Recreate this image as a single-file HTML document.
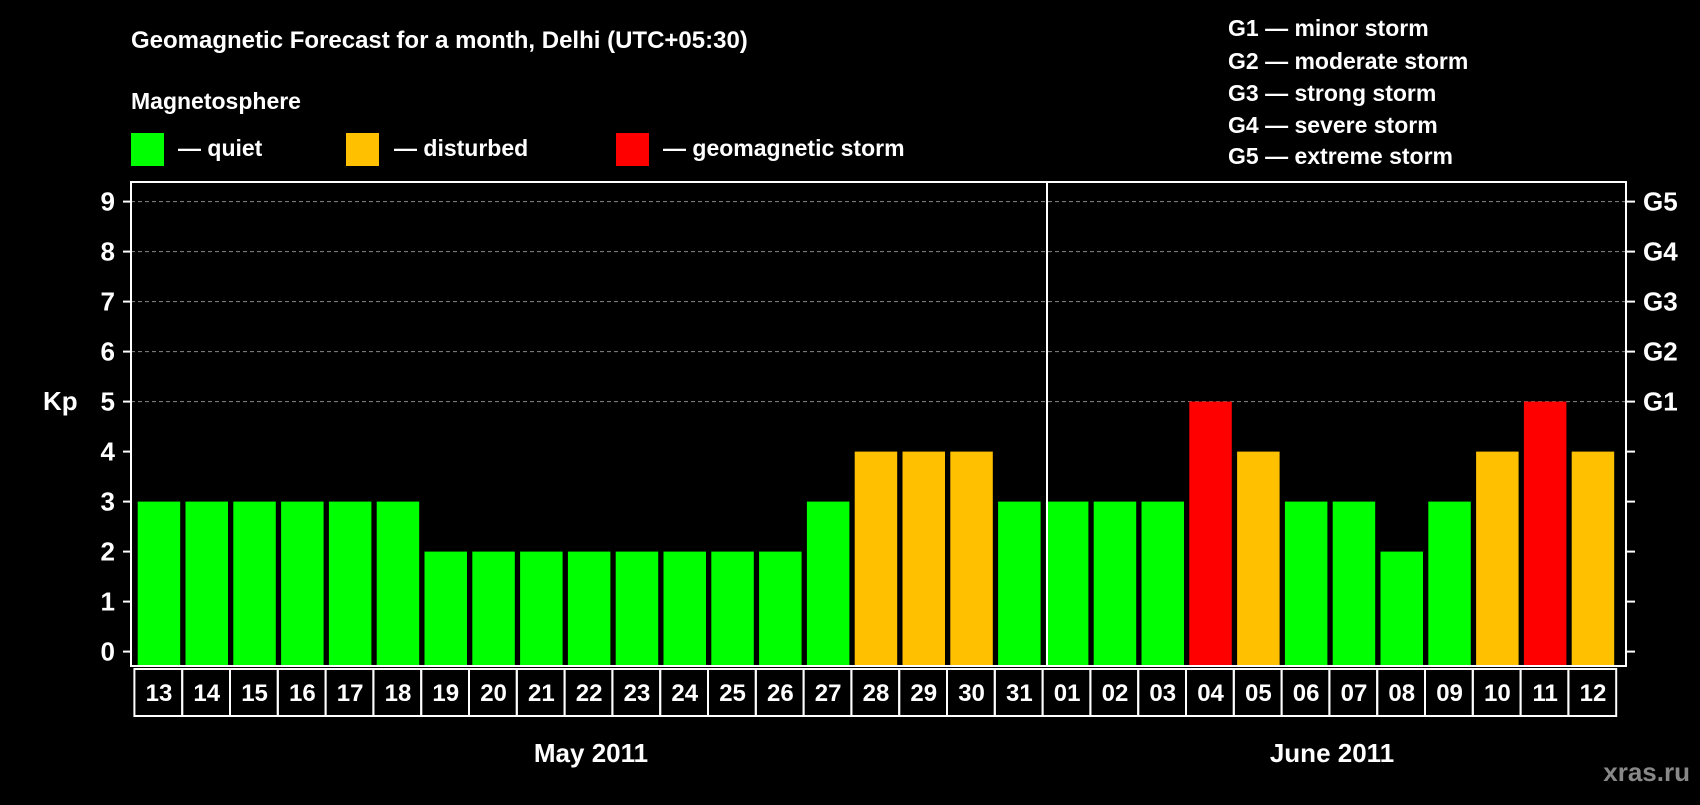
<!DOCTYPE html>
<html><head><meta charset="utf-8"><style>
body{margin:0;background:#000;width:1700px;height:800px;overflow:hidden}
svg text{font-family:"Liberation Sans",Arial,sans-serif;font-weight:bold;fill:#fff}
</style></head><body>
<svg id="chart" width="1700" height="800" xmlns="http://www.w3.org/2000/svg">
<text x="131" y="48" font-size="24">Geomagnetic Forecast for a month, Delhi (UTC+05:30)</text>
<text x="131" y="109" font-size="23">Magnetosphere</text>
<g><rect x="131" y="133" width="33" height="33" fill="#00ff00"/><text x="178" y="156" font-size="23">— quiet</text></g>
<g><rect x="346" y="133" width="33" height="33" fill="#ffc000"/><text x="394" y="156" font-size="23">— disturbed</text></g>
<g><rect x="616" y="133" width="33" height="33" fill="#ff0000"/><text x="663" y="156" font-size="23">— geomagnetic storm</text></g>
<g font-size="23">
<text x="1228" y="36">G1 — minor storm</text>
<text x="1228" y="69">G2 — moderate storm</text>
<text x="1228" y="101">G3 — strong storm</text>
<text x="1228" y="133">G4 — severe storm</text>
<text x="1228" y="164">G5 — extreme storm</text>
</g>
<text x="43" y="410" font-size="26">Kp</text>
<g id="grid"></g><g id="bars"></g><g id="axes"></g><g id="xlabels"></g>
<text x="591" y="762" font-size="26" text-anchor="middle">May 2011</text>
<text x="1332" y="762" font-size="26" text-anchor="middle">June 2011</text>
<text x="1690" y="781" font-size="26" text-anchor="end" style="fill:#888">xras.ru</text>
</svg>
<script>
const days=["13","14","15","16","17","18","19","20","21","22","23","24","25","26","27","28","29","30","31","01","02","03","04","05","06","07","08","09","10","11","12"];
const kp=[3,3,3,3,3,3,2,2,2,2,2,2,2,2,3,4,4,4,3,3,3,3,5,4,3,3,2,3,4,5,4];
const yTicks=[0,1,2,3,4,5,6,7,8,9];
const gLabels=["G1","G2","G3","G4","G5"];
const gValues=[5,6,7,8,9];
const NS="http://www.w3.org/2000/svg";
const L=131,R=1626,T=182,B=666,x0=137.7,pitch=47.8,bw=42.5;
const y=v=>651.6-v*50;
const x=i=>x0+i*pitch;
function mk(tag,attrs,parent){const e=document.createElementNS(NS,tag);for(const k in attrs)e.setAttribute(k,attrs[k]);parent.appendChild(e);return e;}
const grid=document.getElementById('grid'),bars=document.getElementById('bars'),axes=document.getElementById('axes'),xl=document.getElementById('xlabels');
yTicks.forEach(v=>{
 if(v>=5){const g=mk('line',{x1:L,x2:R,y1:y(v),y2:y(v),stroke:'#888','stroke-dasharray':'4,3','stroke-width':1},grid);
 
 }
 const t=mk('line',{x1:L-8,x2:L,y1:y(v),y2:y(v),stroke:'#fff','stroke-width':2},axes);
 
 
 const t2=mk('line',{x1:R,x2:R+9,y1:y(v),y2:y(v),stroke:'#fff','stroke-width':2},axes);
 
 
 const lb=mk('text',{x:115,y:y(v)+9,'font-size':26,'text-anchor':'end'},axes);lb.textContent=v;
 
 
});
gLabels.forEach((g,i)=>{const lb=mk('text',{x:1643,y:y(gValues[i])+9,'font-size':26},axes);lb.textContent=g;
 
 });
kp.forEach((v,i)=>{
 const c=v>=5?'#ff0000':v>=4?'#ffc000':'#00ff00';
 const r=mk('rect',{x:x(i),y:y(v),width:bw,height:B-y(v)-1,fill:c},bars);
 
 
 const cell=mk('rect',{x:x(i)-3.3,y:669,width:pitch,height:47,fill:'none',stroke:'#fff','stroke-width':2},xl);
 
 
 const t=mk('text',{x:x(i)+bw/2,y:701,'font-size':24,'text-anchor':'middle'},xl);t.textContent=days[i];
 
 
});
const fr=mk('rect',{x:L,y:T,width:R-L,height:B-T,fill:'none',stroke:'#fff','stroke-width':2},axes);


const div=mk('line',{x1:1047,x2:1047,y1:T,y2:B,stroke:'#fff','stroke-width':2},axes);


</script>
</body></html>
